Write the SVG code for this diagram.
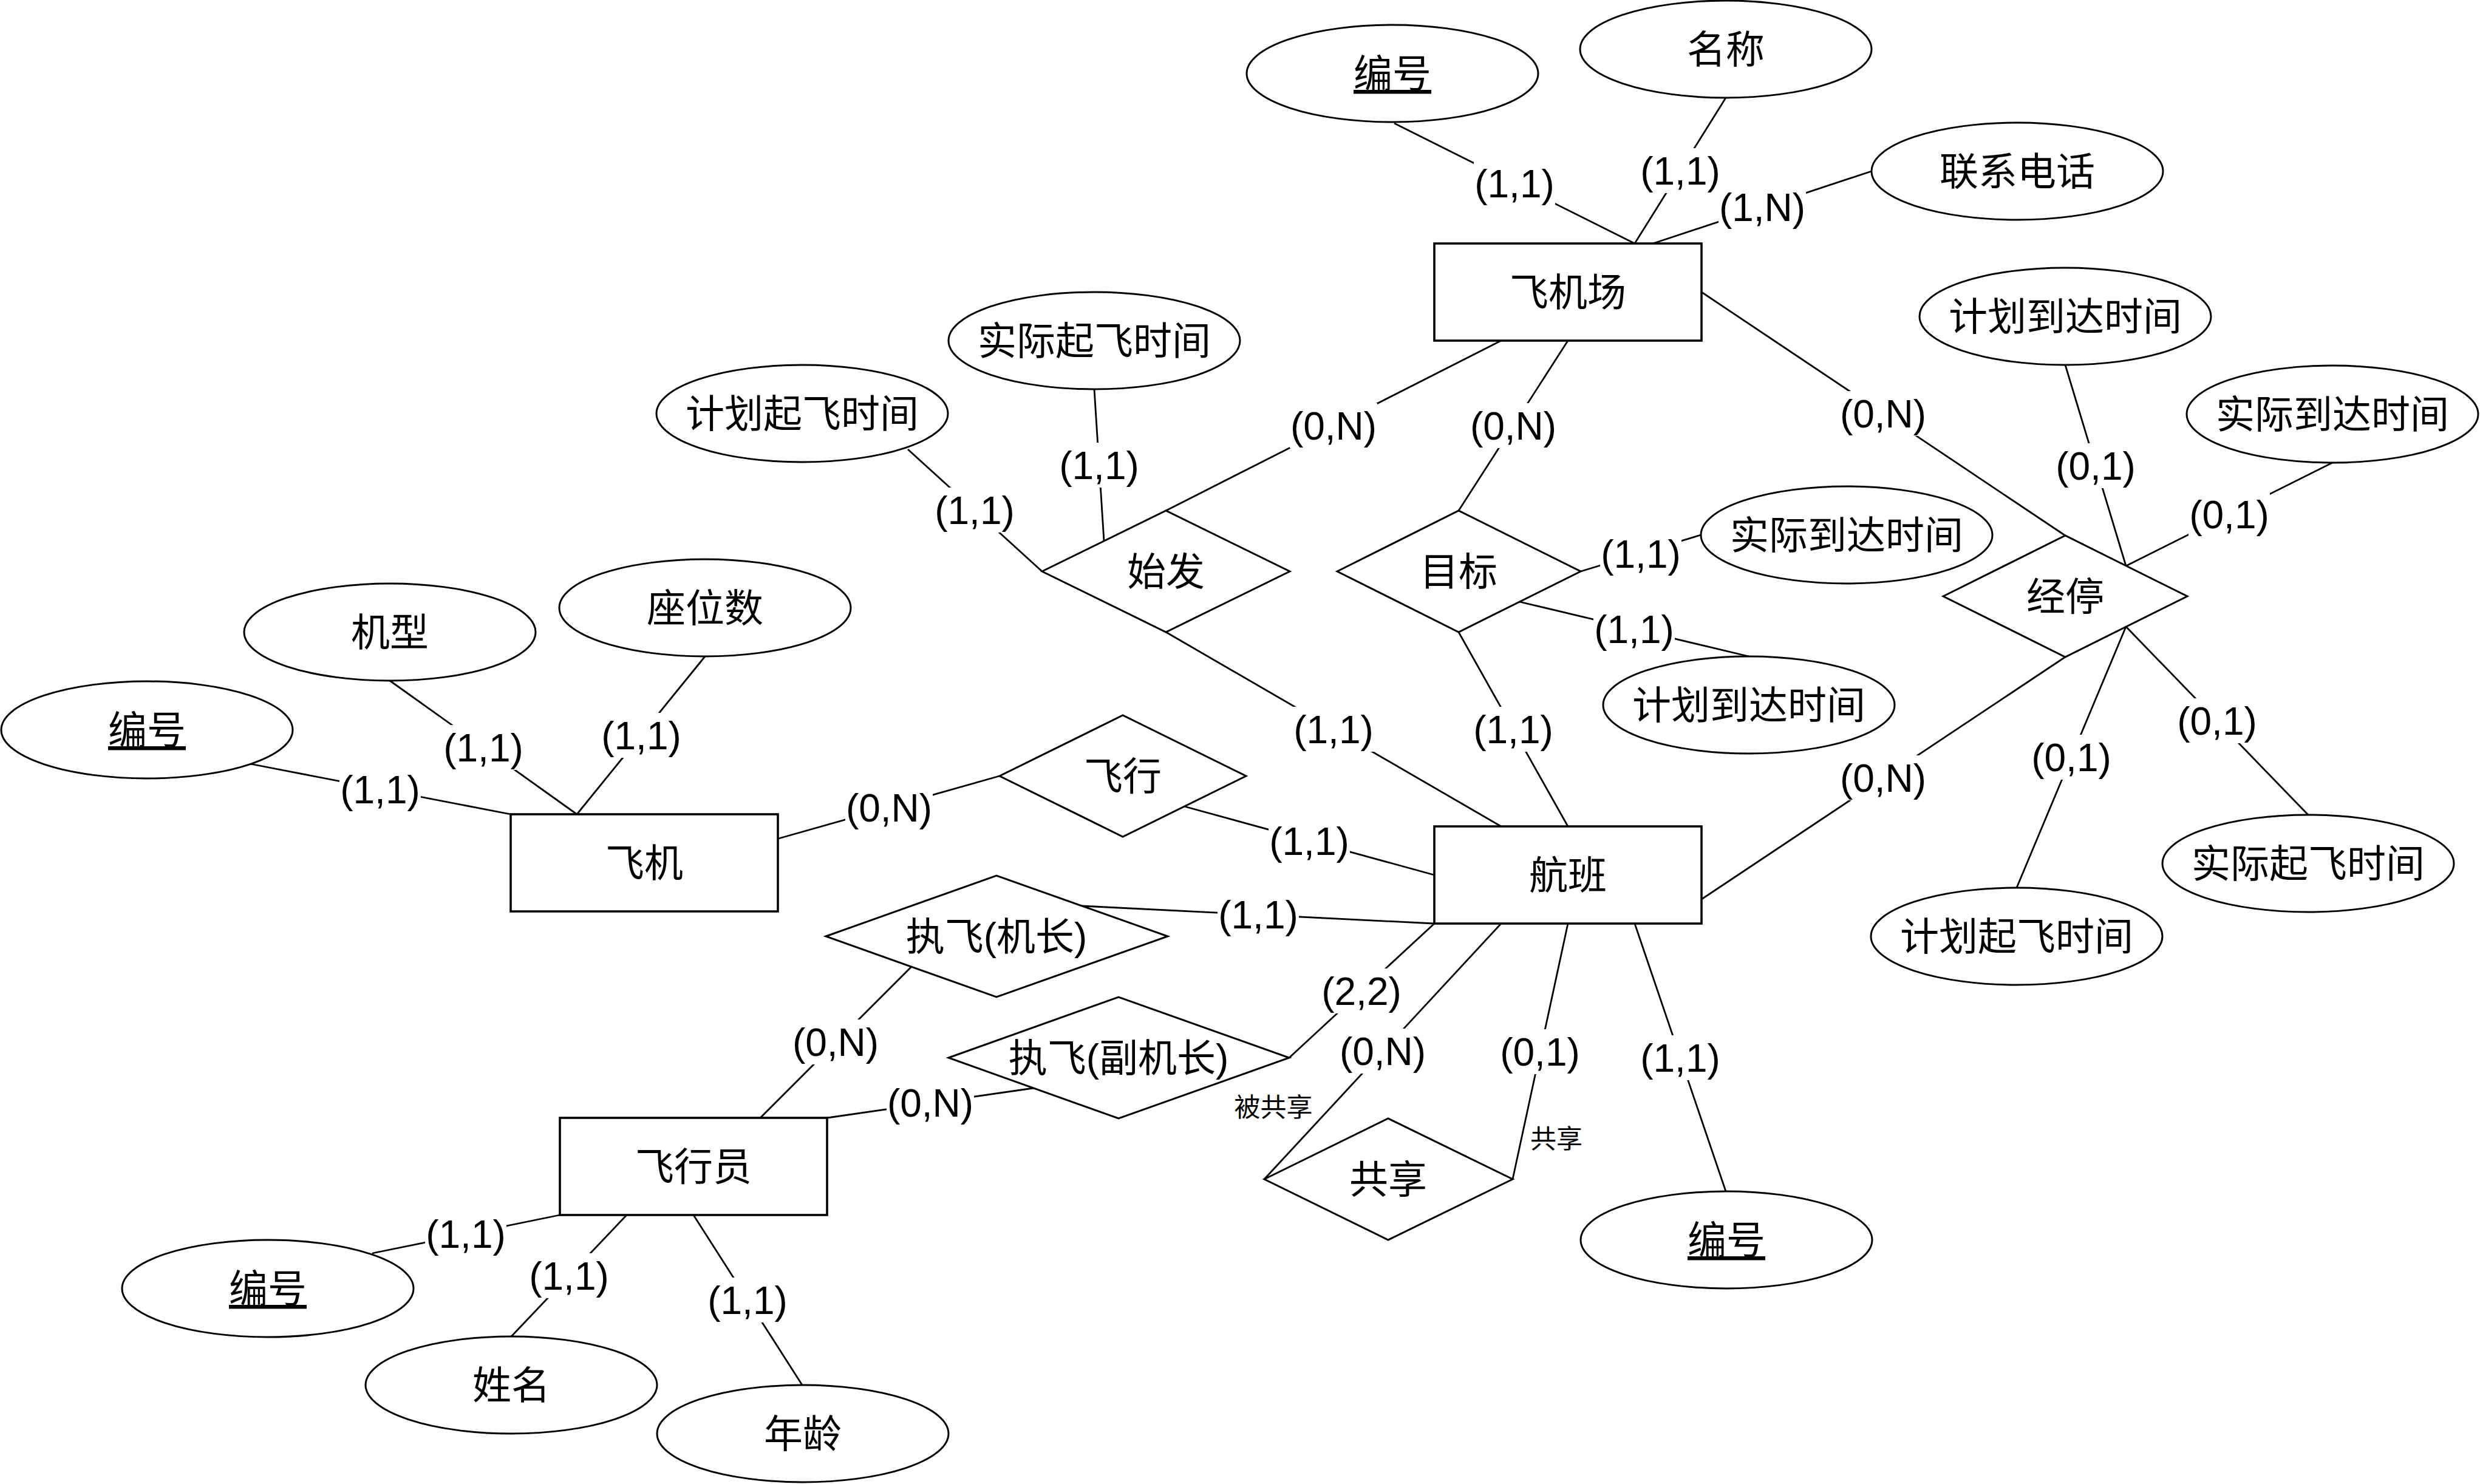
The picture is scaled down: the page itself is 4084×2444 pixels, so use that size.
<svg xmlns="http://www.w3.org/2000/svg" width="4084" height="2444" viewBox="0 0 4084 2444">
<style>
text{font-family:"Liberation Sans","Noto Sans CJK SC",sans-serif;font-size:64px;text-anchor:middle;fill:#000}
.shp{fill:#fff;stroke:#000;stroke-width:3}
.ent{fill:#fff;stroke:#000;stroke-width:3.6}
#connectors line{stroke:#000;stroke-width:2.8;fill:none}
.lbl rect{fill:#fff;stroke:none}
.sm{font-size:43px}
.pk{text-decoration:underline}
</style>
<rect x="0" y="0" width="4084" height="2444" fill="#fff"/>
<g id="connectors">
<line x1="2296" y1="203" x2="2692" y2="401"/>
<line x1="2842" y1="161" x2="2692" y2="401"/>
<line x1="3082" y1="282" x2="2722" y2="401"/>
<line x1="2802" y1="481" x2="3401" y2="882"/>
<line x1="3401" y1="601" x2="3501" y2="932"/>
<line x1="3841" y1="762" x2="3501" y2="932"/>
<line x1="3501" y1="1032" x2="3801" y2="1342"/>
<line x1="3501" y1="1032" x2="3321" y2="1462"/>
<line x1="3401" y1="1082" x2="2802" y2="1481"/>
<line x1="2472" y1="561" x2="1920" y2="841"/>
<line x1="2582" y1="561" x2="2402" y2="841"/>
<line x1="1802" y1="641" x2="1818" y2="891"/>
<line x1="1495" y1="740" x2="1716" y2="941"/>
<line x1="1920" y1="1041" x2="2472" y2="1361"/>
<line x1="2402" y1="1041" x2="2582" y2="1361"/>
<line x1="2603" y1="941" x2="2801" y2="881"/>
<line x1="2502" y1="991" x2="2880" y2="1081"/>
<line x1="412" y1="1258" x2="841" y2="1341"/>
<line x1="642" y1="1121" x2="950" y2="1341"/>
<line x1="1161" y1="1081" x2="950" y2="1341"/>
<line x1="1282" y1="1381" x2="1646" y2="1278"/>
<line x1="1950" y1="1328" x2="2362" y2="1441"/>
<line x1="1782" y1="1492" x2="2362" y2="1521"/>
<line x1="2123" y1="1742" x2="2362" y2="1521"/>
<line x1="2472" y1="1521" x2="2082" y2="1942"/>
<line x1="2582" y1="1521" x2="2491" y2="1942"/>
<line x1="2692" y1="1521" x2="2842" y2="1962"/>
<line x1="1501" y1="1592" x2="1252" y2="1841"/>
<line x1="1702" y1="1792" x2="1362" y2="1841"/>
<line x1="922" y1="2001" x2="613" y2="2064"/>
<line x1="1032" y1="2001" x2="842" y2="2201"/>
<line x1="1142" y1="2001" x2="1321" y2="2281"/>
<g class="lbl"><rect x="2427" y="265" width="134" height="74"/><text x="2494" y="325">(1,1)</text></g>
<g class="lbl"><rect x="2700" y="244" width="134" height="74"/><text x="2767" y="304">(1,1)</text></g>
<g class="lbl"><rect x="2830" y="304" width="144" height="74"/><text x="2902" y="364">(1,N)</text></g>
<g class="lbl"><rect x="3029" y="644" width="144" height="74"/><text x="3101" y="704">(0,N)</text></g>
<g class="lbl"><rect x="3384" y="730" width="134" height="74"/><text x="3451" y="790">(0,1)</text></g>
<g class="lbl"><rect x="3604" y="810" width="134" height="74"/><text x="3671" y="870">(0,1)</text></g>
<g class="lbl"><rect x="3584" y="1150" width="134" height="74"/><text x="3651" y="1210">(0,1)</text></g>
<g class="lbl"><rect x="3344" y="1210" width="134" height="74"/><text x="3411" y="1270">(0,1)</text></g>
<g class="lbl"><rect x="3029" y="1244" width="144" height="74"/><text x="3101" y="1304">(0,N)</text></g>
<g class="lbl"><rect x="2124" y="664" width="144" height="74"/><text x="2196" y="724">(0,N)</text></g>
<g class="lbl"><rect x="2420" y="664" width="144" height="74"/><text x="2492" y="724">(0,N)</text></g>
<g class="lbl"><rect x="1743" y="729" width="134" height="74"/><text x="1810" y="789">(1,1)</text></g>
<g class="lbl"><rect x="1538" y="803" width="134" height="74"/><text x="1605" y="863">(1,1)</text></g>
<g class="lbl"><rect x="2129" y="1164" width="134" height="74"/><text x="2196" y="1224">(1,1)</text></g>
<g class="lbl"><rect x="2425" y="1164" width="134" height="74"/><text x="2492" y="1224">(1,1)</text></g>
<g class="lbl"><rect x="2635" y="875" width="134" height="74"/><text x="2702" y="935">(1,1)</text></g>
<g class="lbl"><rect x="2624" y="999" width="134" height="74"/><text x="2691" y="1059">(1,1)</text></g>
<g class="lbl"><rect x="559" y="1263" width="134" height="74"/><text x="626" y="1323">(1,1)</text></g>
<g class="lbl"><rect x="729" y="1194" width="134" height="74"/><text x="796" y="1254">(1,1)</text></g>
<g class="lbl"><rect x="989" y="1174" width="134" height="74"/><text x="1056" y="1234">(1,1)</text></g>
<g class="lbl"><rect x="1392" y="1293" width="144" height="74"/><text x="1464" y="1353">(0,N)</text></g>
<g class="lbl"><rect x="2089" y="1348" width="134" height="74"/><text x="2156" y="1408">(1,1)</text></g>
<g class="lbl"><rect x="2005" y="1469" width="134" height="74"/><text x="2072" y="1529">(1,1)</text></g>
<g class="lbl"><rect x="2175" y="1595" width="134" height="74"/><text x="2242" y="1655">(2,2)</text></g>
<g class="lbl"><rect x="2205" y="1694" width="144" height="74"/><text x="2277" y="1754">(0,N)</text></g>
<g class="lbl"><rect x="2469" y="1695" width="134" height="74"/><text x="2536" y="1755">(0,1)</text></g>
<g class="lbl"><rect x="2700" y="1705" width="134" height="74"/><text x="2767" y="1765">(1,1)</text></g>
<g class="lbl"><rect x="1304" y="1679" width="144" height="74"/><text x="1376" y="1739">(0,N)</text></g>
<g class="lbl"><rect x="1460" y="1779" width="144" height="74"/><text x="1532" y="1839">(0,N)</text></g>
<g class="lbl"><rect x="700" y="1995" width="134" height="74"/><text x="767" y="2055">(1,1)</text></g>
<g class="lbl"><rect x="870" y="2064" width="134" height="74"/><text x="937" y="2124">(1,1)</text></g>
<g class="lbl"><rect x="1164" y="2104" width="134" height="74"/><text x="1231" y="2164">(1,1)</text></g>
<text class="sm" x="2097" y="1839">被共享</text>
<text class="sm" x="2563" y="1891">共享</text>
</g>
<g id="airport"><rect class="ent" x="2362" y="401" width="440" height="160"/><text x="2582" y="504">飞机场</text></g>
<g id="plane"><rect class="ent" x="841" y="1341" width="440" height="160"/><text x="1061" y="1444">飞机</text></g>
<g id="flight"><rect class="ent" x="2362" y="1361" width="440" height="160"/><text x="2582" y="1464">航班</text></g>
<g id="pilot"><rect class="ent" x="922" y="1841" width="440" height="160"/><text x="1142" y="1944">飞行员</text></g>
<g id="depart"><polygon class="shp" points="1716,941 1920,841 2124,941 1920,1041"/><text x="1920" y="964">始发</text></g>
<g id="dest"><polygon class="shp" points="2202,941 2402,841 2603,941 2402,1041"/><text x="2402" y="964">目标</text></g>
<g id="stop"><polygon class="shp" points="3200,982 3401,882 3602,982 3401,1082"/><text x="3401" y="1005">经停</text></g>
<g id="fly"><polygon class="shp" points="1646,1278 1849,1178 2052,1278 1849,1378"/><text x="1849" y="1301">飞行</text></g>
<g id="captain"><polygon class="shp" points="1360,1542 1641,1442 1923,1542 1641,1642"/><text x="1641" y="1565">执飞(机长)</text></g>
<g id="copilot"><polygon class="shp" points="1562,1742 1842,1642 2123,1742 1842,1842"/><text x="1842" y="1765">执飞(副机长)</text></g>
<g id="share"><polygon class="shp" points="2082,1942 2286,1842 2491,1942 2286,2042"/><text x="2286" y="1965">共享</text></g>
<g id="ap-id"><ellipse class="shp" cx="2293" cy="121" rx="240" ry="80"/><text class="pk" x="2293" y="144">编号</text></g>
<g id="ap-name"><ellipse class="shp" cx="2842" cy="81" rx="240" ry="80"/><text x="2842" y="104">名称</text></g>
<g id="ap-tel"><ellipse class="shp" cx="3322" cy="282" rx="240" ry="80"/><text x="3322" y="305">联系电话</text></g>
<g id="st-parr"><ellipse class="shp" cx="3401" cy="521" rx="240" ry="80"/><text x="3401" y="544">计划到达时间</text></g>
<g id="st-aarr"><ellipse class="shp" cx="3841" cy="682" rx="240" ry="80"/><text x="3841" y="705">实际到达时间</text></g>
<g id="st-adep"><ellipse class="shp" cx="3801" cy="1422" rx="240" ry="80"/><text x="3801" y="1445">实际起飞时间</text></g>
<g id="st-pdep"><ellipse class="shp" cx="3321" cy="1542" rx="240" ry="80"/><text x="3321" y="1565">计划起飞时间</text></g>
<g id="de-aarr"><ellipse class="shp" cx="3041" cy="881" rx="240" ry="80"/><text x="3041" y="904">实际到达时间</text></g>
<g id="de-parr"><ellipse class="shp" cx="2880" cy="1161" rx="240" ry="80"/><text x="2880" y="1184">计划到达时间</text></g>
<g id="dp-adep"><ellipse class="shp" cx="1802" cy="561" rx="240" ry="80"/><text x="1802" y="584">实际起飞时间</text></g>
<g id="dp-pdep"><ellipse class="shp" cx="1321" cy="681" rx="240" ry="80"/><text x="1321" y="704">计划起飞时间</text></g>
<g id="pl-seat"><ellipse class="shp" cx="1161" cy="1001" rx="240" ry="80"/><text x="1161" y="1024">座位数</text></g>
<g id="pl-type"><ellipse class="shp" cx="642" cy="1041" rx="240" ry="80"/><text x="642" y="1064">机型</text></g>
<g id="pl-id"><ellipse class="shp" cx="242" cy="1202" rx="240" ry="80"/><text class="pk" x="242" y="1225">编号</text></g>
<g id="fl-id"><ellipse class="shp" cx="2843" cy="2042" rx="240" ry="80"/><text class="pk" x="2843" y="2065">编号</text></g>
<g id="pi-id"><ellipse class="shp" cx="441" cy="2122" rx="240" ry="80"/><text class="pk" x="441" y="2145">编号</text></g>
<g id="pi-name"><ellipse class="shp" cx="842" cy="2281" rx="240" ry="80"/><text x="842" y="2304">姓名</text></g>
<g id="pi-age"><ellipse class="shp" cx="1322" cy="2361" rx="240" ry="80"/><text x="1322" y="2384">年龄</text></g>
</svg>
